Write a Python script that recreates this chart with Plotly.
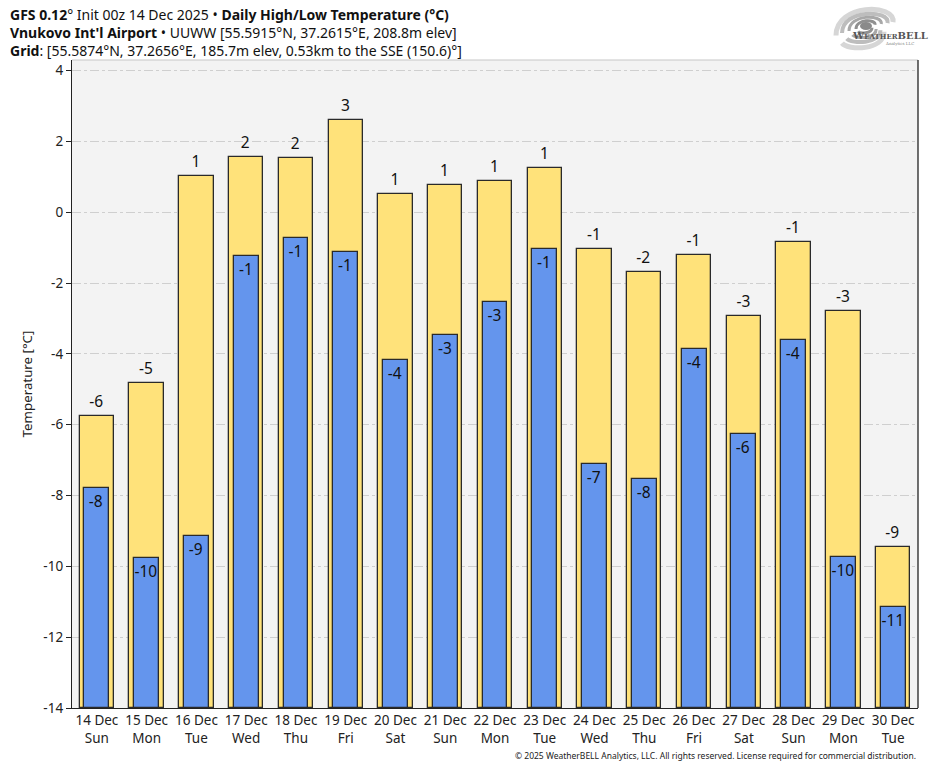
import plotly.graph_objects as go

dates = ["14 Dec", "15 Dec", "16 Dec", "17 Dec", "18 Dec", "19 Dec", "20 Dec", "21 Dec", "22 Dec",
         "23 Dec", "24 Dec", "25 Dec", "26 Dec", "27 Dec", "28 Dec", "29 Dec", "30 Dec"]
weekdays = ["Sun", "Mon", "Tue", "Wed", "Thu", "Fri", "Sat", "Sun", "Mon",
            "Tue", "Wed", "Thu", "Fri", "Sat", "Sun", "Mon", "Tue"]
highs = [-5.75, -4.82, 1.03, 1.57, 1.54, 2.61, 0.52, 0.78, 0.89,
         1.26, -1.03, -1.68, -1.20, -2.92, -0.83, -2.78, -9.45]
lows = [-7.78, -9.76, -9.14, -1.23, -0.72, -1.12, -4.17, -3.46, -2.53,
        -1.03, -7.10, -7.53, -3.86, -6.26, -3.60, -9.73, -11.14]
y_ticks = [4, 2, 0, -2, -4, -6, -8, -10, -12, -14]
y_floor = -14
y_top = 4.3

cats = [f"{d}<br>{w}" for d, w in zip(dates, weekdays)]
FONT = "Noto Sans"
PW, PH = 846, 648  # plot area size in px (935-72-17, 768-60-60)


def px(x):
    return (x - 72) / PW


def py(y):
    return (708 - y) / PH


fig = go.Figure()
fig.add_trace(go.Bar(
    x=cats, y=[h - y_floor for h in highs], base=[y_floor] * len(highs),
    width=0.69, marker=dict(color="#FFE27A", line=dict(color="#2a2a2a", width=1.3)),
    text=[f"{round(h):d}" for h in highs], textposition="outside",
    textfont=dict(family=FONT, size=15.5, color="#111"), cliponaxis=False,
    hoverinfo="skip", showlegend=False))
fig.add_trace(go.Bar(
    x=cats, y=[l - y_floor for l in lows], base=[y_floor] * len(lows),
    width=0.5, marker=dict(color="#6495ED", line=dict(color="#2a2a2a", width=1.3)),
    text=[f"{round(l):d}" for l in lows], textposition="inside", insidetextanchor="end",
    textangle=0, textfont=dict(family=FONT, size=15.5, color="#111"),
    hoverinfo="skip", showlegend=False))

fig.update_layout(
    width=935, height=768, barmode="overlay", bargap=0,
    margin=dict(l=72, r=17, t=60, b=60),
    paper_bgcolor="white", plot_bgcolor="#F3F3F3",
    font=dict(family=FONT, size=12, color="#222"),
    uniformtext=dict(mode="show", minsize=15.5),
    xaxis=dict(showgrid=False, showline=True, linecolor="#222", linewidth=1.3,
               ticks="", tickfont=dict(size=13.5, color="#222"), fixedrange=True),
    yaxis=dict(range=[y_floor, y_top], tickvals=y_ticks, ticktext=[str(v) for v in y_ticks],
               showgrid=True, gridcolor="#CFCFCF", griddash="dashdot", gridwidth=1,
               zeroline=False, showline=True, linecolor="#222", linewidth=1.3,
               ticks="outside", ticklen=5, tickcolor="#222", tickwidth=1.2,
               tickfont=dict(size=13.5, color="#222"),
               title=dict(text="Temperature [°C]", font=dict(size=13.3, color="#222"), standoff=7)),
)

# frame: light top, dark right
fig.add_shape(type="line", xref="paper", yref="paper", x0=0, x1=1, y0=1, y1=1,
              line=dict(color="#C8C8C8", width=1.2))
fig.add_shape(type="line", xref="paper", yref="paper", x0=1, x1=1, y0=0, y1=1,
              line=dict(color="#222", width=1.3))

header = "<br>".join([
    "<b>GFS 0.12</b>° Init 00z 14 Dec 2025 • <b>Daily High/Low Temperature (°C)</b>",
    "<b>Vnukovo Int'l Airport</b> • UUWW [55.5915°N, 37.2615°E, 208.8m elev]",
    "<b>Grid</b>: [55.5874°N, 37.2656°E, 185.7m elev, 0.53km to the SSE (150.6)°]",
])
fig.add_annotation(text=header, xref="paper", yref="paper", x=px(8), xanchor="left",
                   y=py(3), yanchor="top", align="left", showarrow=False,
                   font=dict(family=FONT, size=14, color="#111"))

# logo approximation: gray swirl + text
cx, cy = 866, 26
for rx, ry, c, w in [(30, 19, "#D6D6D6", 5), (24, 14, "#BDBDBD", 4), (17, 10, "#A8A8A8", 3), (10, 6, "#909090", 3)]:
    fig.add_shape(type="path", xref="paper", yref="paper",
                  path=(f"M {px(cx - rx)} {py(cy + ry * 0.5)} "
                        f"C {px(cx - rx)} {py(cy - ry * 1.2)} {px(cx + rx)} {py(cy - ry * 1.2)} {px(cx + rx * 0.9)} {py(cy - ry * 0.2)}"),
                  line=dict(color=c, width=w))
    fig.add_shape(type="path", xref="paper", yref="paper",
                  path=(f"M {px(cx + rx * 0.6)} {py(cy + ry * 0.3)} "
                        f"C {px(cx + rx * 0.6)} {py(cy + ry * 1.3)} {px(cx - rx * 0.6)} {py(cy + ry * 1.3)} {px(cx - rx * 0.8)} {py(cy + ry * 0.9)}"),
                  line=dict(color=c, width=w))
fig.add_shape(type="circle", xref="paper", yref="paper",
              x0=px(cx - 6), x1=px(cx + 6), y0=py(cy + 4), y1=py(cy - 4),
              fillcolor="#8A8A8A", line=dict(width=0))
fig.add_annotation(text="<b>W<span style='font-size:7px'>EATHER</span>BELL</b>", xref="paper", yref="paper",
                   x=px(850), xanchor="left", y=py(28), showarrow=False,
                   font=dict(family="DejaVu Serif", size=10, color="#555"))
fig.add_annotation(text="Analytics LLC", xref="paper", yref="paper",
                   x=px(916), xanchor="right", y=py(39), showarrow=False,
                   font=dict(family="DejaVu Serif", size=4, color="#888"))

fig.add_annotation(text="© 2025 WeatherBELL Analytics, LLC. All rights reserved. License required for commercial distribution.",
                   xref="paper", yref="paper", x=1, xanchor="right", y=py(755), yanchor="middle",
                   showarrow=False, font=dict(family=FONT, size=8.5, color="#222"))

fig.write_html("out.html", config={"displayModeBar": False},
               post_script="document.body.style.margin='0';document.body.style.padding='0';")
